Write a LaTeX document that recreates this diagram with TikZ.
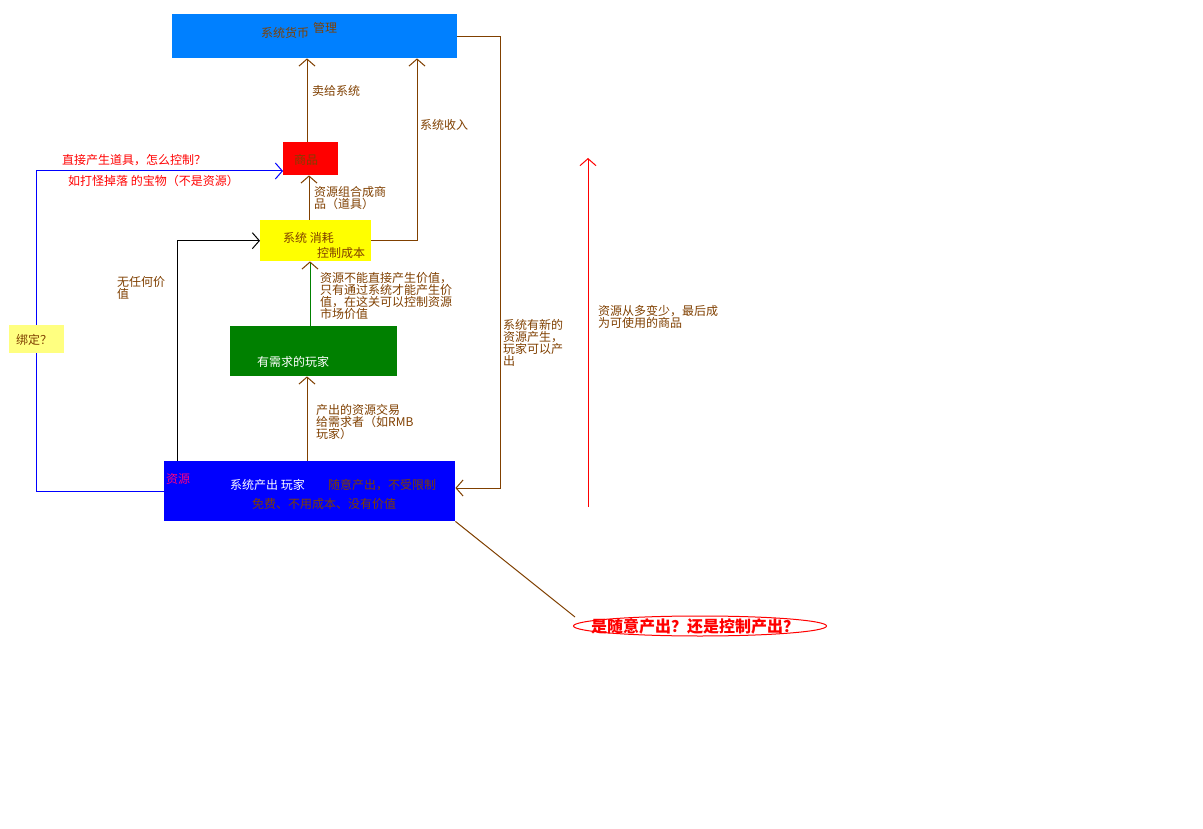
\documentclass[tikz,border=0pt]{standalone}
\usepackage{fontspec}
\newfontfamily\cjk{Noto Sans CJK SC}
\usetikzlibrary{arrows.meta,shapes.geometric}
\definecolor{brn}{HTML}{804000}
\definecolor{topblue}{HTML}{0080FF}
\definecolor{redbox}{HTML}{FF0000}
\definecolor{yelbox}{HTML}{FFFF00}
\definecolor{grnbox}{HTML}{008000}
\definecolor{botblue}{HTML}{0000FF}
\definecolor{pinktxt}{HTML}{FF0080}
\definecolor{bindy}{HTML}{FFFF80}
\begin{document}
\begin{tikzpicture}[x=1pt,y=-1pt,
  box/.style={inner sep=0pt, anchor=north west, draw=none},
  txt/.style={inner sep=0pt, anchor=west, font=\fontsize{12}{12}\selectfont\cjk, text=brn},
  ml/.style={inner sep=0pt, anchor=north west, align=left, font=\fontsize{12}{12.2}\selectfont\cjk, text=brn},
  arr/.style={-{Straight Barb[length=7pt,width=16pt]}, line width=1pt},
  ln/.style={line width=1pt}]
\useasboundingbox[fill=white] (0,0) rectangle (1203,829);

% boxes
\node[box, fill=topblue, minimum width=285pt, minimum height=44pt] (top) at (172,14) {};
\node[box, fill=redbox, minimum width=55pt, minimum height=33pt] (red) at (283,142) {};
\node[box, fill=yelbox, minimum width=111pt, minimum height=41pt] (yel) at (260,220) {};
\node[box, fill=grnbox, minimum width=167pt, minimum height=50pt] (grn) at (230,326) {};
\node[box, fill=botblue, minimum width=291pt, minimum height=60pt] (bot) at (164,461) {};

% coordinates
\coordinate (xa) at (307,0);
\coordinate (xb) at (309,0);
\coordinate (xg) at (310,0);
\coordinate (xc) at (177,0);
\coordinate (bl) at (36,171);
\coordinate (rb) at (500,488);
\coordinate (ry) at (417,240);
\coordinate (ra1) at (588,507);
\coordinate (ra2) at (588,158);
\coordinate (de) at (575,617);

% connectors
\draw[arr,brn] (red.north -| xa) -- (top.south -| xa);
\draw[arr,brn] (yel.north -| xb) -- (red.south -| xb);
\draw[ln,grnbox,-{Straight Barb[length=7pt,width=16pt,color=brn]}] (grn.north -| xg) -- (yel.south -| xg);
\draw[arr,brn] (bot.north -| xa) -- (grn.south -| xa);
\draw[arr,black] (bot.north -| xc) |- (yel.west);
\draw[arr,botblue] (bot.west) -| (bl) -- (red.west |- bl);
\draw[arr,brn] (top.east) -| (rb) -- (bot.east |- rb);
\draw[arr,brn] (yel.east) -| (top.south -| ry);
\draw[arr,redbox] (ra1) -- (ra2);

% ellipse
\node[ellipse, draw=redbox, line width=1pt, inner sep=0pt, minimum width=253pt, minimum height=20pt] (ell) at (700,626) {};
\node[inner sep=0pt, font=\fontsize{16}{16}\selectfont\cjk\bfseries, text=redbox] (elltxt) at (695,626) {是随意产出？还是控制产出？};
\draw[ln,brn] (bot.south east) -- (de);

% bind box
\node[box, fill=bindy, minimum width=55pt, minimum height=28pt] (bind) at (9,325) {};
\node[txt] (bindtxt) at (16,340) {绑定？};

% texts in boxes
\node[txt] (toptxt) at (261,33) {系统货币};
\node[txt] (toptxt2) at (313,28) {管理};
\node[txt] (redtxt) at (294,160) {商品};
\node[txt] (yeltxt1) at (283,238) {系统 消耗};
\node[txt] (yeltxt2) at (317,253) {控制成本};
\node[txt, text=white] (grntxt) at (257,362) {有需求的玩家};
\node[txt, text=pinktxt] (bottxt0) at (166,479) {资源};
\node[txt, text=white] (bottxt1) at (230,485) {系统产出 玩家};
\node[txt] (bottxt2) at (328,485) {随意产出，不受限制};
\node[txt] (bottxt3) at (252,504) {免费、不用成本、没有价值};

% labels
\node[txt] (l1) at (312,91) {卖给系统};
\node[txt] (l2) at (420,125) {系统收入};
\node[ml] (l3) at (314,186) {资源组合成商\\品（道具）};
\node[ml] (l4) at (320,272) {资源不能直接产生价值，\\只有通过系统才能产生价\\值，在这关可以控制资源\\市场价值};
\node[ml] (l5) at (316,404) {产出的资源交易\\给需求者（如RMB\\玩家）};
\node[ml] (l6) at (117,276) {无任何价\\值};
\node[ml] (l7) at (503,319) {系统有新的\\资源产生，\\玩家可以产\\出};
\node[ml] (l8) at (598,305) {资源从多变少，最后成\\为可使用的商品};
\node[txt, text=redbox] (l9) at (62,160) {直接产生道具，怎么控制？};
\node[txt, text=redbox] (l10) at (68,181) {如打怪掉落 的宝物（不是资源）};
\end{tikzpicture}
\end{document}
